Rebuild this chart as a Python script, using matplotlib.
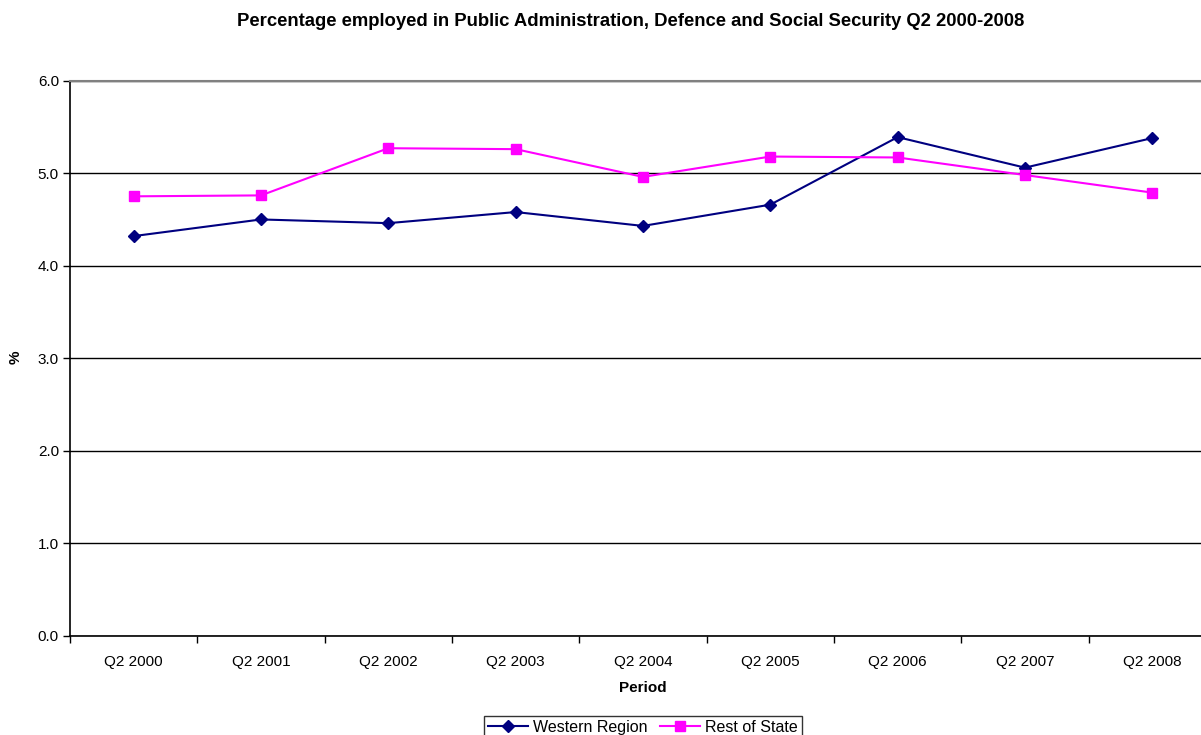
import matplotlib
matplotlib.use("Agg")
import matplotlib.pyplot as plt
import numpy as np

periods = ["Q2 2000", "Q2 2001", "Q2 2002", "Q2 2003", "Q2 2004",
           "Q2 2005", "Q2 2006", "Q2 2007", "Q2 2008"]
western = [4.32, 4.50, 4.46, 4.58, 4.43, 4.66, 5.39, 5.06, 5.38]
rest = [4.75, 4.76, 5.27, 5.26, 4.96, 5.18, 5.17, 4.98, 4.79]

W, H = 1201, 735
fig = plt.figure(figsize=(W / 100, H / 100), dpi=100)
plt.rcParams['font.family'] = ['Liberation Sans', 'DejaVu Sans']

L, R, T, B = 70, 1216, 80.7, 635.7
ax = fig.add_axes([L / W, 1 - B / H, (R - L) / W, (B - T) / H])

x = np.arange(len(periods))
ax.plot(x, western, color='#000080', marker='D', markersize=6, linewidth=1.5,
        label='Western Region', zorder=3)
ax.plot(x, rest, color='#FF00FF', marker='s', markersize=7, linewidth=1.5,
        label='Rest of State', zorder=3)

ax.set_xlim(-0.5, len(periods) - 0.5)
ax.set_ylim(0, 6)
yt = np.arange(0, 6.1, 1.0)
ax.set_yticks(yt)
ax.set_yticklabels([f"{v:.1f}" for v in yt], fontsize=11)
ax.set_xticks(x)
ax.set_xticklabels(periods, fontsize=11)
ax.set_xticks(np.arange(-0.5, len(periods), 1.0), minor=True)
ax.tick_params(axis='x', which='major', length=0, pad=14)
ax.tick_params(axis='x', which='minor', length=5, width=1, color='#000000', direction='out')
ax.tick_params(axis='y', length=5, width=1, direction='out', pad=3)

ax.grid(axis='y', color='#000000', linewidth=1)
ax.set_axisbelow(True)
for s in ['top', 'right']:
    ax.spines[s].set_color('#808080')
    ax.spines[s].set_linewidth(1.5)
for s in ['left', 'bottom']:
    ax.spines[s].set_color('#000000')
    ax.spines[s].set_linewidth(1.2)

fig.text(631 / W, 1 - 21 / H,
         "Percentage employed in Public Administration, Defence and Social Security Q2 2000-2008",
         ha='center', va='center', fontsize=13.3, fontweight='bold')
fig.text(643 / W, 1 - 688 / H, "Period", ha='center', va='center', fontsize=11, fontweight='bold')
fig.text(16 / W, 1 - 357 / H, "%", ha='center', va='center', fontsize=11,
         fontweight='bold', rotation=90)

leg = fig.legend(loc='upper center', bbox_to_anchor=(643 / W, 1 - 708 / H), ncol=2,
                 fontsize=11.5, frameon=True, fancybox=False, edgecolor='#000000',
                 handlelength=2.5, columnspacing=0.8, handletextpad=0.3,
                 borderpad=0.25)
leg.get_frame().set_linewidth(1)

fig.savefig("out.png", dpi=100)
